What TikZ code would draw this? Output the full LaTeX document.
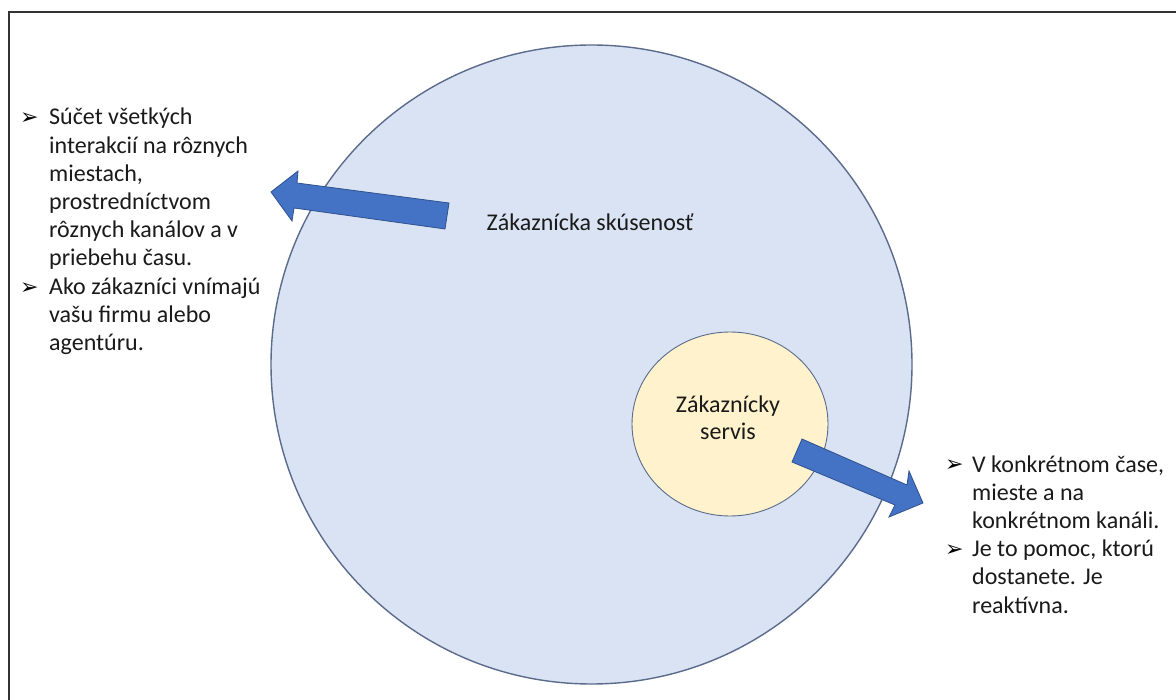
\documentclass[tikz,border=0pt]{standalone}
\usepackage{fontspec}
\usetikzlibrary{shapes.geometric}
\setmainfont{Carlito}
\newfontfamily\symfont{DejaVu Sans}
\definecolor{bigfill}{HTML}{DAE3F3}
\definecolor{bigline}{HTML}{5B6B8C}
\definecolor{smallfill}{HTML}{FFF2CC}
\definecolor{smallline}{HTML}{5B6B8C}
\definecolor{arrfill}{HTML}{4472C4}
\definecolor{arrline}{HTML}{2F528F}
\definecolor{txt}{HTML}{1A1A1A}
\tikzset{
  bodytext/.style={anchor=base west, align=left, inner sep=0pt, text=txt,
    font=\fontsize{24}{28.2}\selectfont},
  bul/.style={anchor=base west, inner sep=0pt, text=black,
    font=\symfont\fontsize{22}{24}\selectfont},
  label/.style={align=center, inner sep=0pt, text=txt, anchor=base,
    font=\fontsize{24}{27}\selectfont},
  blockarrow/.style={fill=arrfill, draw=arrline, line width=0.8pt, line join=miter},
  frameline/.style={draw=black!80, line width=2pt}
}
\begin{document}
\begin{tikzpicture}[x=1pt,y=-1pt]
\useasboundingbox (0,0) rectangle (1176,700);
\clip (0,0) rectangle (1176,700);
\fill[white] (0,0) rectangle (1176,700);
% frame
\draw[frameline] (8.5,702) -- (8.5,12.5) -- (1180,12.5);
% big circle
\node[ellipse, draw=bigline, fill=bigfill, line width=1.4pt, minimum width=641pt, minimum height=639pt, inner sep=0pt] (big) at (591.5,364.5) {};
% small ellipse
\node[ellipse, draw=smallline, fill=smallfill, line width=0.9pt, minimum width=196pt, minimum height=184pt, inner sep=0pt] (small) at (730,424) {};
% labels
\node[label] (lbig) at (590,231) {Zákaznícka skúsenosť};
\node[label] (lsmall) at (728,440) {Zákaznícky\\servis};
% block arrows
\path[blockarrow] (449,203) -- (297,183) -- (298,171) -- (271,192) -- (292,221) -- (294,208) -- (445,229) -- cycle;
\path[blockarrow] (802,439) -- (907,485) -- (909,471) -- (923,503) -- (889,517) -- (895,505) -- (792,462) -- cycle;
% left text
\node[bul] (bL1) at (20,125) {➢};
\node[bodytext] (tL1) at (49,266) {Súčet všetkých\\interakcií na rôznych\\miestach,\\prostredníctvom\\rôznych kanálov a v\\priebehu času.};
\node[bul] (bL2) at (20,294.6) {➢};
\node[bodytext] (tL2) at (49,351) {Ako zákazníci vnímajú\\vašu firmu alebo\\agentúru.};
% right text
\node[bul] (bR1) at (945,472) {➢};
\node[bodytext] (tR1) at (972,528.4) {V konkrétnom čase,\\mieste a na\\konkrétnom kanáli.};
\node[bul] (bR2) at (945,556.6) {➢};
\node[bodytext] (tR2) at (972,613) {Je to pomoc, ktorú\\dostanete. Je\\reaktívna.};
\end{tikzpicture}
\end{document}
